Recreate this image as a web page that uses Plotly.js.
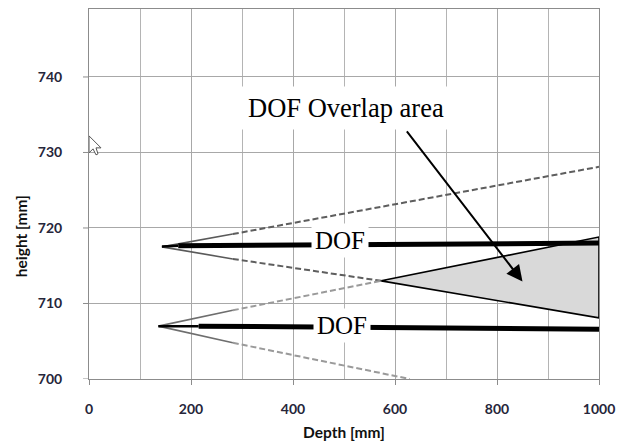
<!DOCTYPE html>
<html>
<head>
<meta charset="utf-8">
<script src="https://cdn.plot.ly/plotly-3.0.1.min.js"></script>
<style>html,body{margin:0;padding:0;background:#fff}#chart{width:625px;height:442px}</style>
</head>
<body>
<div id="chart"></div>
<script>
// ---- data ----
const xTickVals = [0, 200, 400, 600, 800, 1000];
const yTickVals = [700, 710, 720, 730, 740];

// beam edges from the upper camera (first segment solid, then dashed)
const upperTopX = [143, 282, 1000];
const upperTopY = [717.5, 719.2, 728.1];
const upperBotX = [143, 282, 573];
const upperBotY = [717.5, 715.9, 713.0];
// beam edges from the lower camera
const lowerTopX = [136, 282, 573];
const lowerTopY = [707.0, 709.1, 713.0];
const lowerBotX = [136, 282, 629];
const lowerBotY = [707.0, 704.8, 700.0];

// depth-of-field bars (thin start, then thick)
const dofUpperX = [143, 175, 1000];
const dofUpperY = [717.55, 717.65, 718.0];
const dofLowerX = [136, 215, 1000];
const dofLowerY = [707.0, 707.0, 706.6];

// overlap triangle
const overlapX = [573, 1000, 1000, 573];
const overlapY = [713.0, 718.8, 708.1, 713.0];

// labels
const xTitle = 'Depth [mm]';
const yTitle = 'height [mm]';
const dofLabel = 'DOF';
const overlapLabel = 'DOF Overlap area';
const dofUpperPos = [492, 718.3];
const dofLowerPos = [496, 707.1];
const overlapLabelPos = [504, 735.9];
const arrowTip = [850, 712.9];
const arrowTail = [621, 733.0];

function seg(xs, ys, i, j) { return {x: xs.slice(i, j + 1), y: ys.slice(i, j + 1)}; }

const traces = [];
function edge(xs, ys, solidColor, dashColor) {
  const a = seg(xs, ys, 0, 1), b = seg(xs, ys, 1, 2);
  traces.push({type: 'scatter', mode: 'lines', x: b.x, y: b.y,
    line: {color: dashColor, width: 2, dash: '6px,3px'}, hoverinfo: 'skip'});
  traces.push({type: 'scatter', mode: 'lines', x: a.x, y: a.y,
    line: {color: solidColor, width: 1.6}, hoverinfo: 'skip'});
}
edge(upperTopX, upperTopY, '#5a5a5a', '#5e5e5e');
edge(upperBotX, upperBotY, '#5a5a5a', '#5e5e5e');
edge(lowerTopX, lowerTopY, '#6e6e6e', '#9a9a9a');
edge(lowerBotX, lowerBotY, '#6e6e6e', '#9a9a9a');

traces.push({type: 'scatter', mode: 'lines', x: overlapX, y: overlapY, fill: 'toself',
  fillcolor: '#d9d9d9', line: {color: '#000', width: 1.6}, hoverinfo: 'skip'});

function dof(xs, ys) {
  const a = seg(xs, ys, 0, 1), b = seg(xs, ys, 1, 2);
  traces.push({type: 'scatter', mode: 'lines', x: a.x, y: a.y,
    line: {color: '#000', width: 2.5}, hoverinfo: 'skip'});
  traces.push({type: 'scatter', mode: 'lines', x: b.x, y: b.y,
    line: {color: '#000', width: 5}, hoverinfo: 'skip'});
}
dof(dofUpperX, dofUpperY);
dof(dofLowerX, dofLowerY);

const tickFont = {family: 'Lato, "Liberation Sans", sans-serif', size: 14, color: '#26263a', weight: 700};
const titleFont = {family: 'Lato, "Liberation Sans", sans-serif', size: 15.5, color: '#111', weight: 700};
const serif = {family: '"Liberation Serif", "Times New Roman", serif', size: 25, color: '#000'};

// visible short y tick marks (the axis ticks themselves are long and transparent to push labels out)
const plotW = 625 - 89 - 26;
const yTickMarks = yTickVals.map(v => ({type: 'line', xref: 'paper', yref: 'y',
  x0: -6 / plotW, x1: 0, y0: v, y1: v, line: {color: '#8c8c8c', width: 1}, layer: 'above'}));

const layout = {
  width: 625, height: 442,
  margin: {l: 89, r: 26, t: 9, b: 63},
  paper_bgcolor: '#fff', plot_bgcolor: '#fff',
  showlegend: false,
  xaxis: {
    range: [0, 1000], tickvals: xTickVals, ticktext: xTickVals.map(String),
    ticks: 'outside', ticklen: 5, tickcolor: '#8c8c8c', tickwidth: 1,
    showgrid: true, gridcolor: '#a8a8a8', gridwidth: 1,
    minor: {dtick: 100, tick0: 0, showgrid: true, gridcolor: '#b4b4b4', gridwidth: 1, ticks: ''},
    showline: true, linecolor: '#8c8c8c', linewidth: 1, mirror: true,
    zeroline: false, tickfont: tickFont, ticklabelstandoff: 12,
    title: {text: xTitle, font: titleFont, standoff: 11}
  },
  yaxis: {
    range: [700, 749], tickvals: yTickVals, ticktext: yTickVals.map(String),
    ticks: 'outside', ticklen: 23, tickcolor: 'rgba(255,255,255,0)', tickwidth: 1,
    showgrid: true, gridcolor: '#a8a8a8', gridwidth: 1,
    showline: true, linecolor: '#8c8c8c', linewidth: 1, mirror: true,
    zeroline: false, tickfont: tickFont
  },
  annotations: [
    {x: -0.134, y: 0.385, xref: 'paper', yref: 'paper', text: yTitle, textangle: -90,
     showarrow: false, font: titleFont, xanchor: 'center', yanchor: 'middle'},
    {x: dofUpperPos[0], y: dofUpperPos[1], xref: 'x', yref: 'y', text: dofLabel,
     showarrow: false, font: serif, bgcolor: '#fff', borderpad: 3},
    {x: dofLowerPos[0], y: dofLowerPos[1], xref: 'x', yref: 'y', text: dofLabel,
     showarrow: false, font: serif, bgcolor: '#fff', borderpad: 3},
    {x: overlapLabelPos[0], y: overlapLabelPos[1], xref: 'x', yref: 'y', text: overlapLabel,
     showarrow: false, font: Object.assign({}, serif, {size: 26.5}), bgcolor: '#fff', borderpad: 6},
    {x: arrowTip[0], y: arrowTip[1], xref: 'x', yref: 'y', text: '',
     ax: arrowTail[0], ay: arrowTail[1], axref: 'x', ayref: 'y',
     showarrow: true, arrowhead: 2, arrowsize: 1.6, arrowwidth: 2, arrowcolor: '#000'}
  ],
  shapes: yTickMarks.concat([
    {type: 'path', xref: 'x', yref: 'y', xsizemode: 'pixel', ysizemode: 'pixel',
     xanchor: 0, yanchor: 732.2,
     path: 'M0,0 L0,-17 L4,-13 L7,-19 L9,-18 L7,-12 L12,-12 Z',
     fillcolor: '#fff', line: {color: '#555', width: 1}}
  ])
};

Plotly.newPlot('chart', traces, layout, {staticPlot: true, displayModeBar: false});
</script>
</body>
</html>
